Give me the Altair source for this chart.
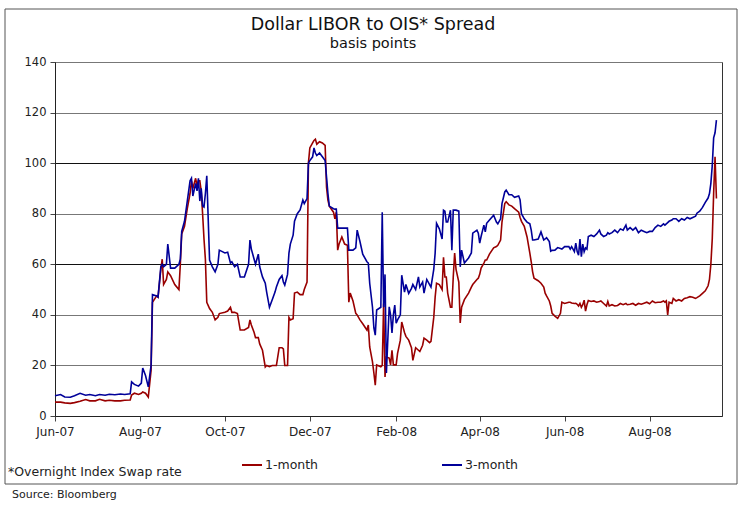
import altair as alt
import pandas as pd

# ---------------- data ----------------
dates = [
    "2007-06-01", "2007-06-05", "2007-06-08", "2007-06-12", "2007-06-15", "2007-06-19", "2007-06-23", "2007-06-26",
    "2007-06-30", "2007-07-03", "2007-07-07", "2007-07-10", "2007-07-14", "2007-07-18", "2007-07-21", "2007-07-25",
    "2007-07-26", "2007-07-28", "2007-07-31", "2007-08-02", "2007-08-03", "2007-08-05", "2007-08-07", "2007-08-09",
    "2007-08-10", "2007-08-13", "2007-08-14", "2007-08-16", "2007-08-17", "2007-08-18", "2007-08-20", "2007-08-21",
    "2007-08-23", "2007-08-26", "2007-08-29", "2007-08-30", "2007-08-31", "2007-09-02", "2007-09-04", "2007-09-06",
    "2007-09-07", "2007-09-08", "2007-09-10", "2007-09-11", "2007-09-12", "2007-09-13", "2007-09-14", "2007-09-15",
    "2007-09-16", "2007-09-17", "2007-09-18", "2007-09-20", "2007-09-22", "2007-09-24", "2007-09-26", "2007-09-27",
    "2007-10-01", "2007-10-03", "2007-10-05", "2007-10-06", "2007-10-08", "2007-10-10", "2007-10-12", "2007-10-15",
    "2007-10-18", "2007-10-19", "2007-10-20", "2007-10-22", "2007-10-23", "2007-10-25", "2007-10-26", "2007-10-28",
    "2007-10-30", "2007-10-31", "2007-11-02", "2007-11-04", "2007-11-06", "2007-11-07", "2007-11-09", "2007-11-11",
    "2007-11-12", "2007-11-13", "2007-11-15", "2007-11-16", "2007-11-17", "2007-11-19", "2007-11-20", "2007-11-22",
    "2007-11-24", "2007-11-26", "2007-11-27", "2007-11-29", "2007-11-30", "2007-12-01", "2007-12-03", "2007-12-04",
    "2007-12-05", "2007-12-06", "2007-12-08", "2007-12-10", "2007-12-12", "2007-12-13", "2007-12-14", "2007-12-15",
    "2007-12-18", "2007-12-19", "2007-12-20", "2007-12-21", "2007-12-22", "2007-12-24", "2007-12-26", "2007-12-28",
    "2007-12-29", "2007-12-30", "2008-01-01", "2008-01-03", "2008-01-04", "2008-01-06", "2008-01-08", "2008-01-11",
    "2008-01-12", "2008-01-13", "2008-01-15", "2008-01-16", "2008-01-17", "2008-01-18", "2008-01-21", "2008-01-22",
    "2008-01-23", "2008-01-24", "2008-01-25", "2008-01-27", "2008-01-28", "2008-01-29", "2008-01-30", "2008-01-31",
    "2008-02-01", "2008-02-02", "2008-02-04", "2008-02-05", "2008-02-07", "2008-02-08", "2008-02-10", "2008-02-12",
    "2008-02-13", "2008-02-15", "2008-02-17", "2008-02-18", "2008-02-20", "2008-02-21", "2008-02-23", "2008-02-25",
    "2008-02-26", "2008-02-28", "2008-02-29", "2008-03-01", "2008-03-03", "2008-03-05", "2008-03-06", "2008-03-07",
    "2008-03-08", "2008-03-09", "2008-03-11", "2008-03-12", "2008-03-13", "2008-03-14", "2008-03-15", "2008-03-17",
    "2008-03-18", "2008-03-19", "2008-03-21", "2008-03-24", "2008-03-26", "2008-03-27", "2008-03-30", "2008-03-31",
    "2008-04-01", "2008-04-02", "2008-04-04", "2008-04-05", "2008-04-06", "2008-04-08", "2008-04-11", "2008-04-13",
    "2008-04-14", "2008-04-16", "2008-04-17", "2008-04-19", "2008-04-20", "2008-04-22", "2008-04-24", "2008-04-26",
    "2008-04-29", "2008-04-30", "2008-05-01", "2008-05-03", "2008-05-05", "2008-05-07", "2008-05-08", "2008-05-09",
    "2008-05-10", "2008-05-13", "2008-05-15", "2008-05-17", "2008-05-18", "2008-05-19", "2008-05-21", "2008-05-22",
    "2008-05-23", "2008-05-25", "2008-05-27", "2008-05-29", "2008-05-30", "2008-06-01", "2008-06-04", "2008-06-05",
    "2008-06-06", "2008-06-08", "2008-06-09", "2008-06-10", "2008-06-11", "2008-06-12", "2008-06-13", "2008-06-14",
    "2008-06-15", "2008-06-16", "2008-06-17", "2008-06-18", "2008-06-20", "2008-06-22", "2008-06-24", "2008-06-26",
    "2008-06-27", "2008-06-29", "2008-07-01", "2008-07-02", "2008-07-03", "2008-07-05", "2008-07-07", "2008-07-09",
    "2008-07-11", "2008-07-13", "2008-07-15", "2008-07-16", "2008-07-18", "2008-07-20", "2008-07-22", "2008-07-24",
    "2008-07-26", "2008-07-28", "2008-07-30", "2008-08-01", "2008-08-03", "2008-08-05", "2008-08-07", "2008-08-09",
    "2008-08-11", "2008-08-12", "2008-08-13", "2008-08-14", "2008-08-15", "2008-08-17", "2008-08-18", "2008-08-20",
    "2008-08-22", "2008-08-24", "2008-08-26", "2008-08-28", "2008-08-30", "2008-09-01", "2008-09-03", "2008-09-04",
    "2008-09-06", "2008-09-08", "2008-09-10", "2008-09-12", "2008-09-13", "2008-09-14", "2008-09-15", "2008-09-16",
    "2008-09-17", "2008-09-18",
]

three_month = [
    8.0, 8.5, 7.5, 7.4, 8.0, 9.0, 8.2, 8.5, 8.0, 8.5, 8.2, 8.6, 8.4, 8.7, 8.5, 8.8,
    13.5, 12.5, 11.8, 13.0, 19.0, 16.0, 11.5, 20.0, 48.0, 47.5, 47.0, 59.0, 60.0, 59.0, 60.0, 68.0,
    58.5, 58.5, 60.0, 62.0, 73.0, 77.0, 85.0, 93.0, 94.0, 87.0, 92.0, 89.0, 94.0, 85.0, 90.0, 83.0,
    82.6, 88.0, 95.0, 61.7, 59.0, 57.0, 60.0, 65.6, 64.5, 64.8, 60.5, 61.0, 59.0, 60.0, 55.0, 55.0,
    60.0, 69.6, 66.0, 62.0, 60.0, 64.0, 59.0, 55.0, 52.5, 49.0, 43.0, 46.0, 49.0, 51.0, 54.0, 55.5,
    53.0, 51.8, 56.0, 64.4, 68.0, 71.5, 77.0, 80.0, 81.5, 85.4, 84.0, 86.0, 100.0, 101.0, 102.5, 106.0,
    104.0, 103.0, 104.0, 102.5, 101.0, 94.5, 88.0, 83.0, 82.0, 81.8, 81.8, 74.3, 74.3, 74.3, 74.3, 74.3,
    65.6, 65.6, 65.6, 66.5, 73.5, 69.0, 64.0, 61.0, 60.5, 52.5, 43.0, 34.8, 32.0, 41.9, 43.0, 80.6,
    43.0, 56.0, 17.0, 43.2, 40.0, 32.8, 40.0, 43.9, 36.7, 38.0, 40.0, 55.7, 49.0, 52.0, 48.5, 50.5,
    52.0, 50.0, 55.0, 51.0, 53.0, 48.6, 54.0, 52.0, 51.0, 58.0, 64.4, 76.2, 74.0, 70.0, 81.4, 81.0,
    76.7, 76.7, 81.4, 65.6, 81.4, 81.4, 81.4, 81.0, 59.0, 65.6, 60.5, 62.5, 64.5, 72.3, 73.5, 72.3,
    68.4, 71.0, 75.5, 72.8, 76.2, 77.5, 79.4, 76.7, 76.0, 78.0, 84.0, 88.6, 89.3, 87.5, 87.5, 86.5,
    87.0, 85.5, 80.0, 78.0, 76.7, 76.0, 73.5, 69.6, 69.6, 70.0, 72.8, 69.6, 70.0, 70.5, 69.0, 65.2,
    65.5, 65.6, 66.6, 66.2, 66.0, 67.0, 67.0, 66.0, 67.0, 65.0, 68.4, 65.0, 63.6, 70.0, 63.0, 68.0,
    65.0, 66.5, 66.0, 71.0, 71.5, 71.0, 72.0, 73.5, 72.0, 71.0, 71.5, 72.5, 72.0, 72.5, 73.5, 72.5,
    74.0, 73.5, 75.5, 73.5, 74.5, 73.5, 74.5, 72.5, 73.5, 73.0, 72.5, 73.0, 73.0, 74.5, 75.5, 75.0,
    76.0, 75.5, 76.0, 76.5, 77.0, 77.5, 78.0, 78.0, 77.0, 78.0, 77.5, 78.5, 78.0, 78.5, 79.0, 80.2,
    81.0, 82.5, 84.5, 86.2, 88.0, 92.0, 99.0, 110.0, 112.0, 117.0,
]

one_month = [
    5.5, 5.5, 5.2, 5.0, 5.3, 5.8, 6.5, 6.0, 6.0, 6.6, 6.0, 6.2, 6.0, 6.0, 6.2, 6.3,
    8.3, 9.0, 8.5, 9.0, 9.5, 9.0, 7.5, 18.0, 45.0, 47.5, 47.0, 58.0, 62.0, 52.0, 54.0, 57.0,
    55.5, 52.0, 50.0, 60.0, 72.0, 75.0, 82.0, 88.0, 93.0, 90.0, 94.0, 91.0, 93.0, 93.0, 89.0, 80.0,
    70.0, 62.0, 45.0, 42.5, 41.0, 38.0, 39.0, 40.5, 41.0, 41.5, 43.0, 41.0, 41.0, 40.5, 34.0, 34.0,
    35.0, 38.0, 36.0, 33.0, 31.0, 31.0, 28.5, 26.0, 19.4, 20.0, 19.5, 20.0, 20.0, 20.0, 27.0, 27.0,
    26.5, 20.0, 20.0, 39.0, 38.0, 38.5, 48.6, 49.0, 48.0, 48.0, 50.0, 53.0, 100.0, 106.0, 108.0, 109.0,
    109.5, 107.5, 108.5, 108.0, 107.0, 90.5, 85.4, 83.0, 80.6, 78.0, 80.6, 65.6, 68.0, 70.8, 68.0, 67.5,
    45.0, 48.6, 45.5, 40.6, 40.0, 38.0, 36.5, 34.0, 36.0, 27.3, 21.4, 17.0, 12.2, 20.2, 19.5, 20.0,
    44.5, 15.4, 23.3, 22.9, 20.2, 26.0, 20.2, 20.2, 20.2, 24.8, 30.0, 37.2, 33.0, 31.5, 30.0, 27.0,
    22.0, 27.0, 26.0, 25.5, 28.0, 30.8, 30.0, 29.0, 29.5, 39.0, 47.0, 52.5, 52.0, 50.0, 62.8, 55.0,
    55.0, 48.6, 43.0, 43.0, 55.0, 64.4, 58.0, 53.0, 36.8, 43.0, 46.0, 48.6, 51.0, 52.0, 54.0, 54.5,
    56.0, 58.5, 60.5, 61.7, 61.7, 64.0, 66.5, 67.0, 67.5, 69.6, 76.7, 84.0, 84.7, 83.5, 83.0, 82.0,
    80.6, 78.5, 77.0, 75.0, 70.8, 64.4, 61.0, 57.0, 54.5, 53.5, 52.5, 51.0, 48.6, 47.5, 45.5, 43.5,
    40.6, 39.5, 38.6, 40.6, 45.0, 44.5, 45.0, 45.0, 44.7, 44.5, 44.6, 44.2, 43.5, 44.5, 43.0, 44.0,
    45.8, 41.5, 44.0, 45.7, 45.3, 45.5, 45.0, 45.3, 45.5, 44.5, 43.5, 45.3, 43.5, 44.0, 43.5, 43.7,
    44.5, 44.0, 44.5, 44.0, 44.2, 44.5, 43.8, 44.5, 44.2, 44.6, 45.0, 44.4, 45.5, 44.8, 45.0, 45.0,
    45.5, 45.0, 45.5, 40.0, 45.0, 44.5, 46.5, 45.5, 46.0, 45.5, 46.5, 46.8, 47.2, 47.0, 46.5, 46.8,
    47.5, 48.5, 49.5, 51.5, 54.0, 60.0, 70.0, 88.0, 102.5, 86.0,
]

y_ticks = [0, 20, 40, 60, 80, 100, 120, 140]
x_tick_dates = [(2007, 6), (2007, 8), (2007, 10), (2007, 12), (2008, 2), (2008, 4), (2008, 6), (2008, 8)]

title_text = "Dollar LIBOR to OIS* Spread"
subtitle_text = "basis points"
footnote_text = "*Overnight Index Swap rate"
source_text = "Source: Bloomberg"
series_names = ["1-month", "3-month"]
series_colors = ["#990000", "#000099"]

FONT = "DejaVu Sans"

df = pd.DataFrame({"date": dates, "m1": one_month, "m3": three_month})

x_enc = alt.X(
    "date:T",
    scale=alt.Scale(
        type="utc",
        domain=[alt.DateTime(year=2007, month=6, date=1, utc=True),
                alt.DateTime(year=2008, month=9, date=22, utc=True)],
        nice=False,
    ),
    axis=alt.Axis(
        title=None,
        values=[alt.DateTime(year=y, month=m, date=1, utc=True) for y, m in x_tick_dates],
        format="%b-%y",
        grid=False,
        tickSize=5,
        labelPadding=5,
        labelFlush=False,
        labelOverlap=False,
        labelFontSize=12,
    ),
)

y_scale = alt.Scale(domain=[0, 140], nice=False, zero=True)
y_axis = alt.Axis(
    title=None,
    values=y_ticks,
    grid=True,
    gridColor={"condition": {"test": "datum.value === 100 || datum.value === 60", "value": "#111111"},
               "value": "#777777"},
    gridWidth=1,
    tickSize=5,
    labelPadding=4,
    labelFontSize=11.5,
)

base = alt.Chart(df)
red_line = base.mark_line(color=series_colors[0], strokeWidth=1.6).encode(
    x=x_enc, y=alt.Y("m1:Q", scale=y_scale, axis=y_axis))
blue_line = base.mark_line(color=series_colors[1], strokeWidth=1.6).encode(
    x=x_enc, y=alt.Y("m3:Q", scale=y_scale, axis=y_axis))


def label(text, x, y, size=11, align="left", color="#222222"):
    return alt.Chart(pd.DataFrame({"t": [text]})).mark_text(
        font=FONT, fontSize=size, align=align, baseline="middle", color=color
    ).encode(x=alt.value(x), y=alt.value(y), text="t:N")


def swatch(color, x1, x2, y):
    return alt.Chart(pd.DataFrame({"t": [0]})).mark_rule(color=color, strokeWidth=2).encode(
        x=alt.value(x1), x2=alt.value(x2), y=alt.value(y))


frame = alt.Chart(pd.DataFrame({"t": [0]})).mark_rect(
    filled=False, stroke="#555555", strokeWidth=1
).encode(x=alt.value(-50), x2=alt.value(682), y=alt.value(-53), y2=alt.value(422))

chart = alt.layer(
    frame,
    red_line,
    blue_line,
    label(title_text, 318, -37, size=17.5, align="center", color="#111111"),
    label(subtitle_text, 318, -18, size=14.5, align="center", color="#111111"),
    label(footnote_text, -47, 410, size=12.5),
    label(source_text, -43, 433, size=11),
    swatch(series_colors[0], 187, 207, 403),
    label(series_names[0], 210, 403, size=12.5),
    swatch(series_colors[1], 387, 407, 403),
    label(series_names[1], 410, 403, size=12.5),
).properties(
    width=667,
    height=354,
    autosize=alt.AutoSizeParams(type="none"),
    padding={"left": 55, "top": 62, "right": 18, "bottom": 90},
    background="white",
).configure_view(
    stroke="#333333", strokeWidth=1
).configure_axis(
    labelFont=FONT, labelFontSize=11, labelColor="#222222",
    tickColor="#444444", domainColor="#222222",
)

chart.save("out.html", embed_options={"renderer": "svg", "actions": False})
